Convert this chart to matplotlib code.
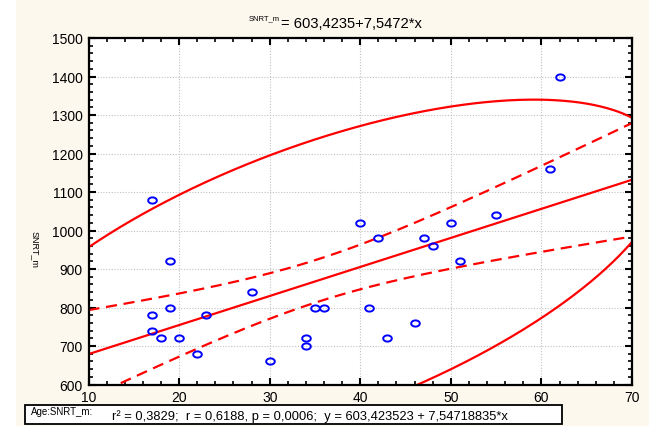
import numpy as np
import matplotlib.pyplot as plt
from matplotlib.path import Path
from matplotlib.patches import Rectangle
from matplotlib.ticker import MultipleLocator

plt.rcParams['font.family'] = ['Liberation Sans', 'DejaVu Sans']

# data
age = np.array([17, 19, 17, 19, 17, 18, 20, 22, 23, 28, 30, 34, 34, 35, 36,
                40, 41, 42, 43, 46, 47, 48, 50, 51, 55, 61, 62])
snrt = np.array([1080, 920, 780, 800, 740, 720, 720, 680, 780, 840, 660, 720, 700, 800, 800,
                 1020, 800, 980, 720, 760, 980, 960, 1020, 920, 1040, 1160, 1400])

title_var = 'SNRT_m'
title_eq = '= 603,4235+7,5472*x'
footer_var = 'Age:SNRT_m:'
footer_txt = 'r² = 0,3829;  r = 0,6188, p = 0,0006;  y = 603,423523 + 7,54718835*x'

# regression, 95% confidence band and 95% prediction ellipse
n = len(age)
b, a = np.polyfit(age, snrt, 1)
xs = np.linspace(10, 70, 241)
fit = a + b * xs
mx, my = age.mean(), snrt.mean()
sxx = ((age - mx) ** 2).sum()
s = np.sqrt(((snrt - (a + b * age)) ** 2).sum() / (n - 2))
t_crit = 2.0595  # t(0.975, 25)
band = t_crit * s * np.sqrt(1 / n + (xs - mx) ** 2 / sxx)

sx, sy = age.std(ddof=1), snrt.std(ddof=1)
r = np.corrcoef(age, snrt)[0, 1]
f_crit = 3.385  # F(0.95; 2, 25)
c = 2 * (n - 1) / (n - 2) * f_crit * (n + 1) / n
u = (xs - mx) / sx
disc = np.clip((1 - r ** 2) * (c - u ** 2), 0, None)
ell_up = my + sy * (r * u + np.sqrt(disc))
ell_lo = my + sy * (r * u - np.sqrt(disc))

# flattened ellipse marker like the original
th = np.linspace(0, 2 * np.pi, 40)
oval = Path(np.column_stack([np.cos(th), 0.72 * np.sin(th)]), closed=True)

fig = plt.figure(figsize=(6.49, 4.27), dpi=100, facecolor='#fcf8ee')
fig.patches.append(Rectangle((0, 0), 16 / 649, 1, transform=fig.transFigure,
                             facecolor='white', edgecolor='none', zorder=0))
ax = fig.add_axes([88.5 / 649, 1 - 385.5 / 427, 543.5 / 649, 346.5 / 427])
ax.set_facecolor('white')

ax.plot(xs, ell_up, color='red', lw=1.6)
ax.plot(xs, ell_lo, color='red', lw=1.6)
ax.plot(xs, fit, color='red', lw=1.6)
ax.plot(xs, fit + band, color='red', lw=1.6, ls=(0, (5, 3)))
ax.plot(xs, fit - band, color='red', lw=1.6, ls=(0, (5, 3)))
ax.plot(age, snrt, ls='none', marker=oval, ms=6.2, mfc='none', mec='#0000ff', mew=1.4)

ax.set_xlim(10, 70)
ax.set_ylim(600, 1500)
ax.xaxis.set_major_locator(MultipleLocator(10))
ax.xaxis.set_minor_locator(MultipleLocator(2))
ax.yaxis.set_major_locator(MultipleLocator(100))
ax.yaxis.set_minor_locator(MultipleLocator(20))
ax.grid(True, which='major', ls=(0, (1, 1.5)), color='#c0c0c0', lw=0.8)
ax.tick_params(which='both', direction='in', top=True, right=True, colors='black')
ax.tick_params(which='major', length=5, width=1.5, labelsize=10, pad=4)
ax.tick_params(which='minor', length=3, width=1.2)
for sp in ax.spines.values():
    sp.set_linewidth(1.6)

fig.text(249 / 649, 1 - 20 / 427, title_var, fontsize=5.5, ha='left', va='baseline')
fig.text(281 / 649, 1 - 28 / 427, title_eq, fontsize=10.6, ha='left', va='baseline')
fig.text(35 / 649, 1 - 249 / 427, 'SNRT_m', fontsize=6.5, rotation=-90, ha='center', va='center')

fig.patches.append(Rectangle((25 / 649, 2 / 427), 537 / 649, 19 / 427, transform=fig.transFigure,
                             facecolor='white', edgecolor='black', lw=1.3))
fig.text(31 / 649, 1 - 415 / 427, footer_var, fontsize=7, ha='left', va='baseline')
fig.text(112 / 649, 1 - 420 / 427, footer_txt, fontsize=9.3, ha='left', va='baseline')

fig.savefig('out.png', dpi=100, facecolor=fig.get_facecolor())
